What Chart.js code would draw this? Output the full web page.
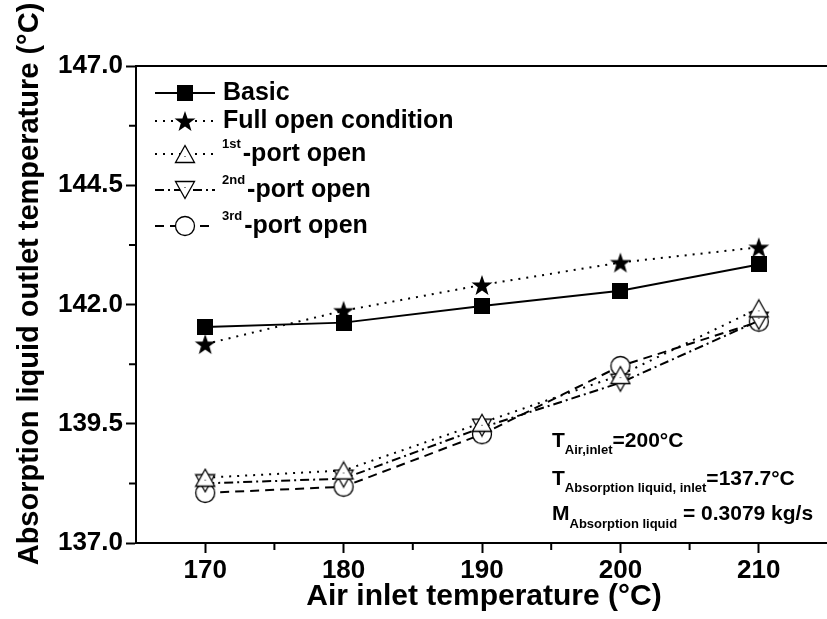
<!DOCTYPE html>
<html>
<head>
<meta charset="utf-8">
<script src="https://cdn.jsdelivr.net/npm/chart.js@4.4.1/dist/chart.umd.min.js"></script>
<style>
  html, body { margin: 0; padding: 0; background: #fff; overflow: hidden; }
  #wrap { width: 840px; height: 619px; }
</style>
</head>
<body>
<div id="wrap"><canvas id="chart" width="840" height="619"></canvas></div>
<script>
// air inlet temperature (°C)
const airTemps = [170, 180, 190, 200, 210];
// absorption liquid outlet temperature (°C)
const basicValues = [141.53, 141.62, 141.97, 142.29, 142.84];
const fullOpenValues = [141.17, 141.87, 142.41, 142.88, 143.2];
const port1Values = [138.37, 138.52, 139.52, 140.52, 141.92];
const port2Values = [138.25, 138.35, 139.42, 140.36, 141.66];
const port3Values = [138.05, 138.18, 139.28, 140.71, 141.64];

const xTicks = [170, 180, 190, 200, 210];
const xMinorTicks = [165, 175, 185, 195, 205];
const yTicks = [137.0, 139.5, 142.0, 144.5, 147.0];
const yMinorTicks = [138.25, 140.75, 143.25, 145.75];

const FONT = 'Arial, "Liberation Sans", sans-serif';

// marker images
function makeMarker(w, h, draw) {
	const c = document.createElement('canvas');
	c.width = w;
	c.height = h;
	const g = c.getContext('2d');
	draw(g, w, h);
	return c;
}

const squareMarker = makeMarker(16, 16, (g) => {
	g.fillStyle = '#000';
	g.fillRect(0, 0, 16, 16);
});

const starMarker = makeMarker(22, 22, (g) => {
	g.fillStyle = '#000';
	g.beginPath();
	for (let i = 0; i < 10; i++) {
		const r = i % 2 === 0 ? 11 : 4.4;
		const a = -Math.PI / 2 + (i * Math.PI) / 5;
		const px = 11 + r * Math.cos(a);
		const py = 12 + r * Math.sin(a);
		if (i === 0) g.moveTo(px, py);
		else g.lineTo(px, py);
	}
	g.closePath();
	g.fill();
});

function triangle(up) {
	return makeMarker(22, 20, (g) => {
		g.fillStyle = '#fff';
		g.strokeStyle = '#000';
		g.lineWidth = 1.3;
		g.beginPath();
		if (up) {
			g.moveTo(11, 1.5);
			g.lineTo(20.5, 18.5);
			g.lineTo(1.5, 18.5);
		} else {
			g.moveTo(1.5, 1.5);
			g.lineTo(20.5, 1.5);
			g.lineTo(11, 18.5);
		}
		g.closePath();
		g.fill();
		g.stroke();
		g.fillStyle = '#000';
		g.fillRect(10.5, up ? 12 : 7, 1, 1);
	});
}
const triUpMarker = triangle(true);
const triDownMarker = triangle(false);

const circleMarker = makeMarker(22, 22, (g) => {
	g.fillStyle = '#fff';
	g.strokeStyle = '#000';
	g.lineWidth = 1.3;
	g.beginPath();
	g.arc(11, 11, 9.5, 0, Math.PI * 2);
	g.fill();
	g.stroke();
});

function toPoints(values) {
	return airTemps.map((x, i) => ({ x: x, y: values[i] }));
}

function series(label, values, marker, dash) {
	return {
		label: label,
		data: toPoints(values),
		borderColor: '#000',
		borderWidth: 2,
		borderDash: dash,
		pointStyle: marker,
		pointRadius: 10,
		pointHoverRadius: 10,
		tension: 0,
		fill: false,
	};
}

const datasets = [
	series('Basic', basicValues, squareMarker, []),
	series('Full open condition', fullOpenValues, starMarker, [2, 6]),
	series('1st-port open', port1Values, triUpMarker, [2, 6]),
	series('2nd-port open', port2Values, triDownMarker, [9, 4, 2, 4]),
	series('3rd-port open', port3Values, circleMarker, [9, 6]),
];

const legendRows = [
	{ sup: '', text: 'Basic', y: 93 },
	{ sup: '', text: 'Full open condition', y: 121 },
	{ sup: '1st', text: '-port open', y: 154 },
	{ sup: '2nd', text: '-port open', y: 190 },
	{ sup: '3rd', text: '-port open', y: 226 },
];

function drawSubText(ctx, x, y, parts) {
	// parts: [text, size, dy]
	for (const [text, size, dy] of parts) {
		ctx.font = 'bold ' + size + 'px ' + FONT;
		ctx.fillText(text, x, y + dy);
		x += ctx.measureText(text).width;
	}
}

const extras = {
	id: 'extras',
	afterDraw(chart) {
		const ctx = chart.ctx;
		const area = chart.chartArea;
		const xs = chart.scales.x;
		const ys = chart.scales.y;
		ctx.save();
		ctx.strokeStyle = '#000';
		ctx.fillStyle = '#000';

		// top frame
		ctx.lineWidth = 2;
		ctx.beginPath();
		ctx.moveTo(area.left - 1, area.top);
		ctx.lineTo(area.right + 1, area.top);
		ctx.stroke();

		// minor ticks
		ctx.lineWidth = 2;
		ctx.beginPath();
		for (const v of xMinorTicks) {
			const px = xs.getPixelForValue(v);
			if (px <= area.left + 1) continue;
			ctx.moveTo(px, area.bottom);
			ctx.lineTo(px, area.bottom + 7);
		}
		for (const v of yMinorTicks) {
			const py = ys.getPixelForValue(v);
			ctx.moveTo(area.left, py);
			ctx.lineTo(area.left - 7, py);
		}
		ctx.stroke();

		// legend
		chart.data.datasets.forEach((ds, i) => {
			const row = legendRows[i];
			ctx.lineWidth = 2;
			ctx.setLineDash(ds.borderDash);
			ctx.beginPath();
			ctx.moveTo(155, row.y);
			ctx.lineTo(215, row.y);
			ctx.stroke();
			ctx.setLineDash([]);
			const m = ds.pointStyle;
			ctx.drawImage(m, 185 - m.width / 2, row.y - m.height / 2);
			ctx.textBaseline = 'middle';
			ctx.textAlign = 'left';
			let tx = 223;
			if (row.sup) {
				ctx.font = 'bold 13px ' + FONT;
				ctx.fillText(row.sup, tx - 1, row.y - 10);
				tx += ctx.measureText(row.sup).width + 1;
			}
			ctx.font = 'bold 25px ' + FONT;
			ctx.fillText(row.text, tx, row.y);
		});

		// conditions
		ctx.textBaseline = 'alphabetic';
		drawSubText(ctx, 552, 447, [['T', 21, 0], ['Air,inlet', 13, 7], ['=200°C', 21, 0]]);
		drawSubText(ctx, 552, 485, [['T', 21, 0], ['Absorption liquid, inlet', 13, 7], ['=137.7°C', 21, 0]]);
		drawSubText(ctx, 552, 520, [['M', 21, 0], ['Absorption liquid', 13, 8], [' = 0.3079 kg/s', 21, 0]]);

		// axis titles
		ctx.textAlign = 'center';
		ctx.textBaseline = 'middle';
		ctx.font = 'bold 30px ' + FONT;
		ctx.fillText('Air inlet temperature (°C)', 484, 597);
		ctx.save();
		ctx.translate(30, 284);
		ctx.rotate(-Math.PI / 2);
		ctx.font = 'bold 29px ' + FONT;
		ctx.fillText('Absorption liquid outlet temperature (°C)', 0, 0);
		ctx.restore();

		ctx.restore();
	},
};

const tickFont = { family: FONT, weight: 'bold', size: 26 };

new Chart(document.getElementById('chart'), {
	type: 'line',
	data: { datasets: datasets },
	options: {
		responsive: false,
		animation: false,
		devicePixelRatio: 1,
		layout: { padding: { left: 0, top: 66, right: 8, bottom: 0 } },
		plugins: {
			legend: { display: false },
			tooltip: { enabled: false },
		},
		scales: {
			x: {
				type: 'linear',
				min: 165,
				max: 215,
				afterBuildTicks: (scale) => {
					scale.ticks = xTicks.map((v) => ({ value: v }));
				},
				afterFit: (scale) => {
					scale.height = 76;
				},
				ticks: {
					autoSkip: false,
					maxRotation: 0,
					padding: 2,
					color: '#000',
					font: tickFont,
					callback: (v) => String(v),
				},
				grid: {
					drawOnChartArea: false,
					tickLength: 10,
					tickWidth: 2,
					tickColor: '#000',
				},
				border: { color: '#000', width: 2 },
			},
			y: {
				min: 137,
				max: 147,
				afterBuildTicks: (scale) => {
					scale.ticks = yTicks.map((v) => ({ value: v }));
				},
				afterFit: (scale) => {
					scale.width = 136;
				},
				ticks: {
					autoSkip: false,
					padding: 3,
					color: '#000',
					font: tickFont,
					callback: (v) => Number(v).toFixed(1),
				},
				grid: {
					drawOnChartArea: false,
					tickLength: 10,
					tickWidth: 2,
					tickColor: '#000',
				},
				border: { color: '#000', width: 2 },
			},
		},
	},
	plugins: [extras],
});
</script>
</body>
</html>
